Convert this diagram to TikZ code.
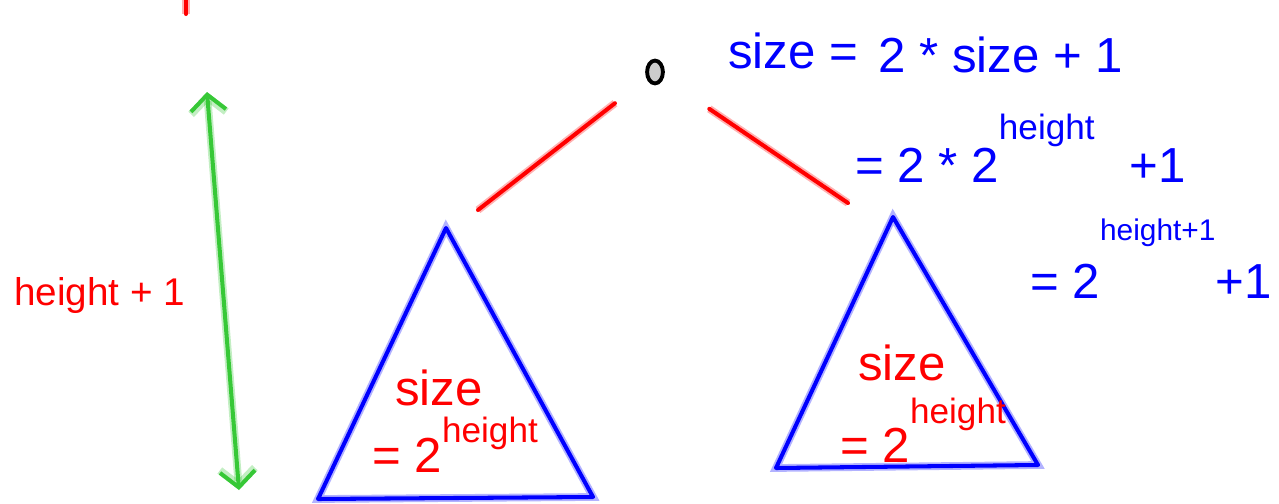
\documentclass[tikz,border=0pt]{standalone}
\usepackage{fontspec}
\setmainfont{Liberation Sans}
\usetikzlibrary{arrows.meta,shapes.geometric}
\definecolor{pen}{RGB}{55,200,55}
% raised exponent, handwritten style
\newcommand{\pwr}[3][20]{\raisebox{#2}{\fontsize{#1}{#1}\selectfont #3}}
\begin{document}
\begin{tikzpicture}[x=0.02cm,y=-0.02cm,
  stroke/.style={draw=#1,line width=2.3pt,line cap=round,line join=round,
    preaction={draw=#1,line width=4.4pt,opacity=0.3}},
  edge/.style={stroke=red},
  tri/.style={stroke=blue},
  span/.style={stroke=pen,{Straight Barb[length=9pt,width=20pt]}-{Straight Barb[length=9pt,width=20pt]}},
  root/.style={draw,ellipse,line width=2.2pt,fill=gray!40,
    minimum width=9pt,minimum height=13pt,inner sep=0pt},
  blu/.style={text=blue,font=\fontsize{28}{30}\selectfont,inner sep=0pt,anchor=base west},
  rd/.style={text=red,font=\fontsize{28}{30}\selectfont,inner sep=0pt,anchor=base west}]
\useasboundingbox (0,0) rectangle (1279,504);
% tree
\node[root] (root) at (655,72) {};
\coordinate (ljoin) at (478,210);
\coordinate (rjoin) at (848,203);
\draw[edge,shorten <=0.8cm] (root) -- (ljoin);
\draw[edge,shorten <=1.1cm] (root) -- (rjoin);
\coordinate (ltop) at (446,228);
\coordinate (lbl) at (318,499);
\coordinate (lbr) at (593,497);
\coordinate (rtop) at (893,217);
\coordinate (rbl) at (776,468);
\coordinate (rbr) at (1038,465);
\draw[tri] (ltop) -- (lbl) -- (lbr) -- cycle;
\draw[tri] (rtop) -- (rbl) -- (rbr) -- cycle;
% subtree labels
\node[rd] (lsize) at (395,405) {size};
\node[rd] (lval) at (372,472) {= 2\pwr{17pt}{height}};
\node[rd] (rsize) at (858,380) {size};
\node[rd] (rval) at (840,462) {= 2\pwr{22pt}{height}};
% height
\draw[edge] (186,0) -- (186,14);
\coordinate (htop) at (207,92);
\coordinate (hbot) at (239,490);
\draw[span] (htop) -- (hbot);
\node[rd,font=\fontsize{22}{24}\selectfont] (hlab) at (14,305) {height + 1};
% size
\node[blu] (eq1) at (728,68) {size =};
\node[blu] (eq1r) at (878,72) {2 * size + 1};
\node[blu] (eq2) at (855,182) {= 2 * 2\pwr{24pt}{height}\hspace{20pt}+1};
\node[blu] (eq3) at (1030,298) {= 2\pwr[17]{33pt}{height+1}+1};
\end{tikzpicture}
\end{document}
